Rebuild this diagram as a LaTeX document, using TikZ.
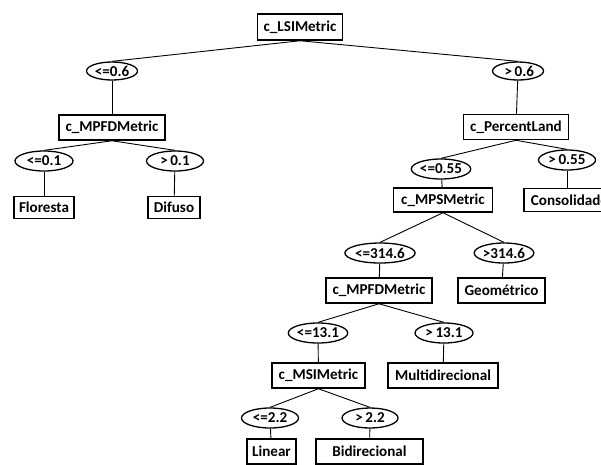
\documentclass[tikz,border=0pt]{standalone}
\usepackage{fontspec}
\setmainfont{Carlito}
\usetikzlibrary{shapes.geometric}
\begin{document}
\begin{tikzpicture}[x=1pt,y=-1pt,
  every node/.style={font=\bfseries\fontsize{15.1}{16}\selectfont, inner sep=0pt},
  attr/.style={draw, line width=1.5pt, minimum height=25pt},
  leaf/.style={draw, line width=1.5pt, minimum height=22pt},
  cond/.style={draw, ellipse, line width=1.3pt, minimum width=57pt, minimum height=20pt},
  edge/.style={line width=0.9pt}]
\useasboundingbox (0,0) rectangle (601,464);
\clip (0,0) rectangle (601,464);
% nodes
\node[attr, minimum width=85pt, minimum height=26pt] (root) at (300,27) {c\_LSIMetric};
\node[cond, minimum width=51pt, minimum height=18pt] (c1) at (112,71) {<=0.6};
\node[cond, minimum width=51pt, minimum height=18pt] (c2) at (518,71) {\,>\,0.6};
\node[attr, minimum width=106pt] (mpfd1) at (112,127.5) {c\_MPFDMetric};
\node[attr, minimum width=105pt] (pl) at (516,127) {c\_PercentLand};
\node[cond, minimum width=58pt] (c3) at (44,161) {<=0.1};
\node[cond, minimum width=57pt] (c4) at (175,161) {>\,0.1};
\node[leaf, minimum width=60pt] (flo) at (44,207.5) {Floresta};
\node[leaf, minimum width=52pt] (dif) at (174,207.5) {Difuso};
\node[cond, minimum width=57pt] (c5) at (441,169) {<=0.55};
\node[cond, minimum width=57pt] (c6) at (567,160) {>\,0.55};
\node[attr, minimum width=99pt, minimum height=24pt] (mps) at (443,200) {c\_MPSMetric};
\node[leaf, minimum width=92pt, minimum height=23pt, anchor=west] (con) at (523,200) {Consolidado};
\node[cond, minimum width=57pt] (c7) at (380,253) {<=314.6};
\node[cond, minimum width=58pt] (c8) at (504,253) {>314.6};
\node[attr, minimum width=106pt] (mpfd2) at (379,290.5) {c\_MPFDMetric};
\node[attr, minimum width=87pt] (geo) at (501.5,290.5) {Geométrico};
\node[cond, minimum width=58pt] (c9) at (318,333) {<=13.1};
\node[cond, minimum width=58pt] (c10) at (444,333) {>\,13.1};
\node[attr, minimum width=93pt] (msi) at (318.5,375.5) {c\_MSIMetric};
\node[attr, minimum width=110pt] (mul) at (443,375.5) {Multidirecional};
\node[cond, minimum width=57pt] (c11) at (270,418) {<=2.2};
\node[cond, minimum width=56pt] (c12) at (370,418) {>\,2.2};
\node[attr, minimum width=49pt] (lin) at (271.5,451.5) {Linear};
\node[attr, minimum width=107pt] (bid) at (369.5,451.5) {Bidirecional};
% edges
\draw[edge] (root.south) -- (c1.north);
\draw[edge] (root.south) -- (c2.north);
\draw[edge] (c1) -- (mpfd1);
\draw[edge] (c2) -- (pl);
\draw[edge] (mpfd1.south) -- (c3.north);
\draw[edge] (mpfd1.south) -- (c4.north);
\draw[edge] (c3) -- (flo);
\draw[edge] (c4) -- (dif);
\draw[edge] (pl.south) -- (c5.north);
\draw[edge] (pl.south) -- (c6.north);
\draw[edge] (c5) -- (mps);
\draw[edge] (c6.south) -- (c6.south |- con.north);
\draw[edge] (mps.south) -- (c7.north);
\draw[edge] (mps.south) -- (c8.north);
\draw[edge] (c7) -- (mpfd2);
\draw[edge] (c8) -- (geo);
\draw[edge] (mpfd2.south) -- (c9.north);
\draw[edge] (mpfd2.south) -- (c10.north);
\draw[edge] (c9) -- (msi);
\draw[edge] (c10) -- (mul);
\draw[edge] (msi.south) -- (c11.north);
\draw[edge] (msi.south) -- (c12.north);
\draw[edge] (c11) -- (lin);
\draw[edge] (c12) -- (bid);
\end{tikzpicture}
\end{document}
